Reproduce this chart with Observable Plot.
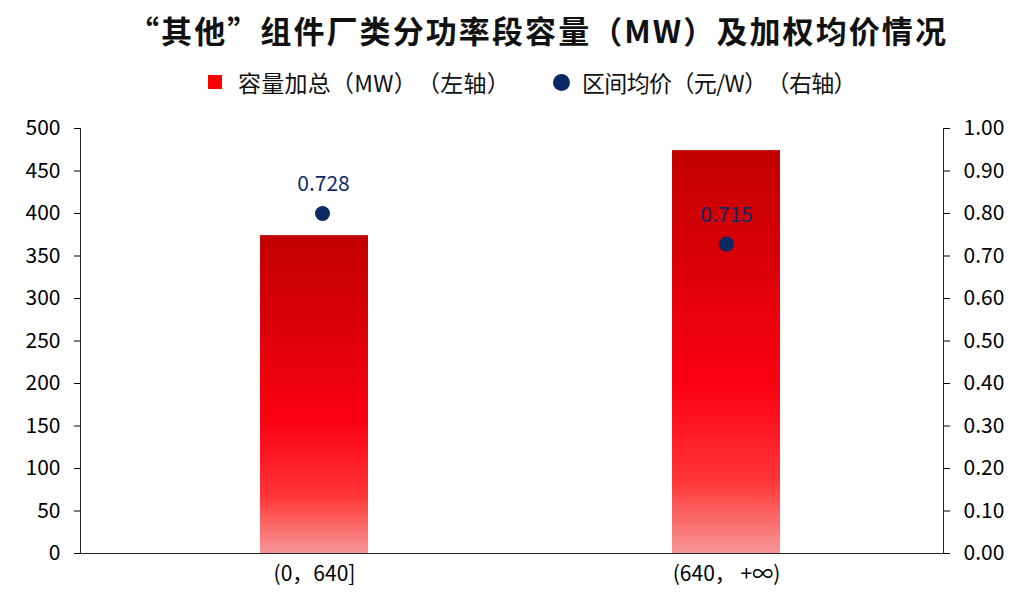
<!DOCTYPE html>
<html>
<head>
<meta charset="utf-8">
<script src="https://cdn.jsdelivr.net/npm/d3@7"></script>
<script src="https://cdn.jsdelivr.net/npm/@observablehq/plot@0.6"></script>
<style>
  html, body { margin: 0; padding: 0; background: #fff; }
  body { font-family: 'Noto Sans CJK SC', 'Noto Sans', sans-serif; color: #000; text-spacing-trim: space-all; }
  #wrap { width: 1024px; height: 611px; position: relative; overflow: hidden; }
  #header { position: relative; width: 1024px; height: 105px; }
  #title { position: absolute; left: 128px; top: 9px; white-space: nowrap; font-size: 31px; font-weight: 700; line-height: 42px; color: #111; text-spacing-trim: space-all; }
  .leg { position: absolute; top: 67px; height: 30px; display: flex; align-items: center; white-space: nowrap; font-size: 23px; color: #111; text-spacing-trim: space-all; }
  .sw-sq { width: 14px; height: 14px; background: #ff0000; margin-right: 16px; }
  .sw-ci { width: 17px; height: 17px; border-radius: 50%; background: #0b2a63; margin-right: 12px; }
  #chart svg { display: block; }
</style>
</head>
<body>
<div id="wrap">
  <div id="header">
    <div id="title">“其他”组件厂类分功率段容量（MW）及加权均价情况</div>
    <div class="leg" style="left:208px"><div class="sw-sq"></div><span id="leg1">容量加总（MW）（左轴）</span></div>
    <div class="leg" style="left:553px"><div class="sw-ci"></div><span id="leg2">区间均价（元/W）（右轴）</span></div>
  </div>
  <div id="chart"></div>
</div>
<script>
// ---- data ----
const categories = ["(0，640]", "(640， +∞)"];
const capacityMW = [374, 474];
const priceDotPositions = [0.80, 0.728];   // where the dots sit on the right axis
const priceLabels = ["0.728", "0.715"];     // value labels as printed
const leftTicks = [0, 50, 100, 150, 200, 250, 300, 350, 400, 450, 500];
const rightTicks = [0, 0.1, 0.2, 0.3, 0.4, 0.5, 0.6, 0.7, 0.8, 0.9, 1.0];
const RATIO = 500; // right axis 1.00 aligns with left axis 500

const rows = categories.map((c, i) => ({
  cat: c, cap: capacityMW[i], pricePos: priceDotPositions[i] * RATIO, label: priceLabels[i]
}));

// fit header texts to the reference widths
function fitWidth(id, target) {
  const t = document.getElementById(id);
  const w = t.getBoundingClientRect().width;
  const n = t.textContent.length;
  t.style.letterSpacing = ((target - w) / n) + "px";
}
fitWidth("title", 948 - 128);
fitWidth("leg1", 272);
fitWidth("leg2", 274);

const defs = () => {
  const d = d3.create("svg:defs");
  const g = d.append("linearGradient").attr("id", "barGrad")
    .attr("x1", 0).attr("y1", 0).attr("x2", 0).attr("y2", 1);
  [["0%", "#c20000"], ["30%", "#dc0008"], ["58%", "#fb0010"], ["82%", "#ff3535"], ["100%", "#f79797"]]
    .forEach(([o, c]) => g.append("stop").attr("offset", o).attr("stop-color", c));
  return d.node();
};

const font = "'Noto Sans CJK SC', 'Noto Sans', sans-serif";
const first = rows.filter((d, i) => i === 0);
const rest = rows.filter((d, i) => i > 0);

const chart = Plot.plot({
  width: 1024,
  height: 506,
  marginTop: 23,
  marginBottom: 58,
  marginLeft: 80,
  marginRight: 81,
  style: { fontFamily: font, fontSize: "21px", color: "#000", background: "transparent" },
  x: { domain: categories, range: [259, 780], paddingInner: 0.738, paddingOuter: 0 },
  y: { domain: [0, 500] },
  marks: [
    defs,
    Plot.barY(rows, { x: "cat", y: "cap", fill: "url(#barGrad)" }),
    Plot.ruleY([0], { stroke: "#222" }),
    Plot.frame({ anchor: "left", stroke: "#222" }),
    Plot.frame({ anchor: "right", stroke: "#222" }),
    Plot.axisY(leftTicks, { anchor: "left", tickSize: 6, tickPadding: 14, tickFormat: d => String(d), fontSize: 21, label: null }),
    Plot.axisY(rightTicks.map(v => v * RATIO), { anchor: "right", tickSize: 6, tickPadding: 14, tickFormat: d => (d / RATIO).toFixed(2), fontSize: 21, label: null }),
    Plot.axisX({ tickSize: 0, tickPadding: 13, fontSize: 21, label: null }),
    Plot.dot(first, { x: "cat", y: "pricePos", r: 7.5, dx: 8, fill: "#0b2a63", stroke: "none" }),
    Plot.text(first, { x: "cat", y: "pricePos", text: "label", dx: 9, dy: -29, fill: "#0d2b6b", fontSize: 21 }),
    Plot.dot(rest, { x: "cat", y: "pricePos", r: 7.5, fill: "#0b2a63", stroke: "none" }),
    Plot.text(rest, { x: "cat", y: "pricePos", text: "label", dy: -29, fill: "#0d2b6b", fontSize: 21 })
  ]
});
document.getElementById("chart").appendChild(chart);
</script>
</body>
</html>
